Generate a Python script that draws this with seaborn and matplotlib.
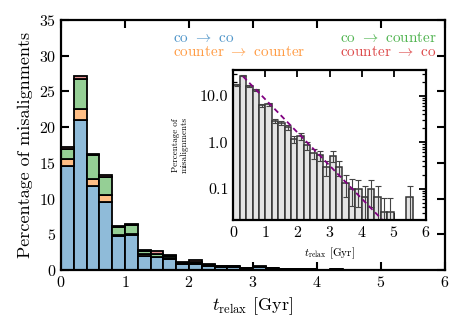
import numpy as np
import pandas as pd
import matplotlib
matplotlib.use("Agg")
import matplotlib.pyplot as plt
import seaborn as sns

# binned relaxation times, 0.2 Gyr bins from 0 to 6 Gyr (percent of misalignments)
bin_edges = [round(0.2 * i, 1) for i in range(31)]
co_co = [14.5, 21.0, 11.7, 9.45, 4.7, 4.95, 2.0, 1.75, 1.55, 0.85, 0.9, 0.6, 0.45, 0.4, 0.22,
         0.38, 0.22, 0.1, 0.1, 0.065, 0.065, 0.065, 0.065, 0.032, 0.032, 0, 0, 0.065, 0, 0]
counter_counter = [1.0, 1.6, 1.0, 1.1, 0.2, 0.15, 0.2, 0.1, 0.1, 0.05, 0.1, 0.05, 0.03, 0.03, 0,
                   0.03, 0, 0, 0, 0, 0, 0, 0, 0, 0, 0, 0, 0, 0, 0]
co_counter = [1.45, 4.2, 3.4, 2.45, 1.1, 1.15, 0.4, 0.4, 0.3, 0.1, 0.15, 0.1, 0.07, 0.07, 0.07,
              0.07, 0.07, 0.03, 0, 0.032, 0, 0.032, 0, 0, 0, 0, 0, 0, 0, 0]
counter_co = [0.2, 0.3, 0.1, 0.3, 0.2, 0.25, 0.25, 0.35, 0.15, 0.15, 0.2, 0.1, 0.03, 0.03, 0,
              0.03, 0, 0, 0, 0, 0, 0, 0, 0, 0, 0, 0, 0, 0, 0]
# Poisson errors on the total per bin
total_err = [0.74, 0.94, 0.72, 0.66, 0.45, 0.46, 0.30, 0.29, 0.26, 0.19, 0.21, 0.17, 0.14, 0.13,
             0.10, 0.13, 0.10, 0.065, 0.057, 0.056, 0.046, 0.056, 0.046, 0.032, 0.032, 0, 0,
             0.046, 0, 0]
# exponential fit shown in the inset
fit_norm = 43.0
fit_tau = 0.61
fit_range = [0.3, 6.0]

labels = [r"co $\rightarrow$ co", r"counter $\rightarrow$ counter",
          r"co $\rightarrow$ counter", r"counter $\rightarrow$ co"]
bar_colors = ["#8fbbd9", "#ffbf86", "#95cf95", "#ea9393"]
text_colors = ["#4f95c9", "#ff9c45", "#50b450", "#dd4a4b"]

sns.set_style("ticks", {"axes.edgecolor": "black", "xtick.color": "black",
                        "ytick.color": "black", "text.color": "black",
                        "axes.labelcolor": "black"})
plt.rcParams["font.family"] = ["cmr10", "DejaVu Serif"]
plt.rcParams["mathtext.fontset"] = "cm"
plt.rcParams["axes.formatter.use_mathtext"] = True
plt.rcParams["axes.unicode_minus"] = False

edges = np.array(bin_edges)
centers = (edges[:-1] + edges[1:]) / 2
df = pd.concat([
    pd.DataFrame({"t": centers, "pct": vals, "channel": lab})
    for vals, lab in zip([co_co, counter_counter, co_counter, counter_co], labels)
], ignore_index=True)
total = np.array(co_co) + np.array(counter_counter) + np.array(co_counter) + np.array(counter_co)

fig = plt.figure(figsize=(4.63, 3.31), dpi=100)
ax = fig.add_axes([0.1318, 0.1843, 0.8292, 0.7553])

# seaborn stacks the first hue level on top, so reverse the order
sns.histplot(data=df, x="t", weights="pct", hue="channel", hue_order=labels[::-1],
             palette=dict(zip(labels, bar_colors)), multiple="stack", bins=bin_edges,
             alpha=1, edgecolor="black", linewidth=1.3, legend=False, ax=ax)
ax.set_xlim(0, 6)
ax.set_ylim(0, 35)
ax.set_xticks(range(7))
ax.set_yticks(range(0, 36, 5))
ax.set_xlabel(r"$t_{\rm relax}$ [Gyr]", fontsize=13)
ax.set_ylabel("Percentage of misalignments", fontsize=13)
ax.tick_params(direction="in", top=True, right=True, length=6, width=1.5, labelsize=11.5)
for s in ax.spines.values():
    s.set_linewidth(1.6)

pos = [(0.2917, 0.928), (0.2917, 0.873), (0.7266, 0.928), (0.7266, 0.873)]
for (x, y), lab, c in zip(pos, labels, text_colors):
    ax.text(x, y, lab, color=c, fontsize=11, transform=ax.transAxes, va="center", ha="left")

# inset: total distribution on a log scale
axin = fig.add_axes([0.504, 0.3353, 0.4155, 0.4532])
inset_df = pd.DataFrame({"t": centers, "pct": total})
sns.histplot(data=inset_df, x="t", weights="pct", bins=bin_edges, color="#e4e4e4", alpha=1,
             edgecolor="#333333", linewidth=1.1, ax=axin)
mask = total > 0
axin.errorbar(centers[mask], total[mask], yerr=np.array(total_err)[mask], fmt="none",
              ecolor="#444444", elinewidth=0.8, capsize=2, capthick=0.8)
tt = np.linspace(fit_range[0], fit_range[1], 200)
axin.plot(tt, fit_norm * np.exp(-tt / fit_tau), color="purple", ls="--", lw=1.3, dashes=(3, 2))
axin.set_yscale("log")
axin.set_xlim(0, 6)
axin.set_ylim(0.021, 36)
axin.set_xticks(range(7))
axin.set_yticks([0.1, 1.0, 10.0])
axin.set_yticklabels(["0.1", "1.0", "10.0"])
axin.set_xlabel(r"$t_{\rm relax}$ [Gyr]", fontsize=8)
axin.set_ylabel("Percentage of\nmisalignments", fontsize=6.5, linespacing=1.0, labelpad=8)
axin.tick_params(which="both", direction="in", top=True, right=True, labelsize=11.5)
axin.tick_params(which="major", length=5, width=1.3)
axin.tick_params(which="minor", length=3, width=0.9)
for s in axin.spines.values():
    s.set_linewidth(1.6)

fig.savefig("out.png", dpi=100)
